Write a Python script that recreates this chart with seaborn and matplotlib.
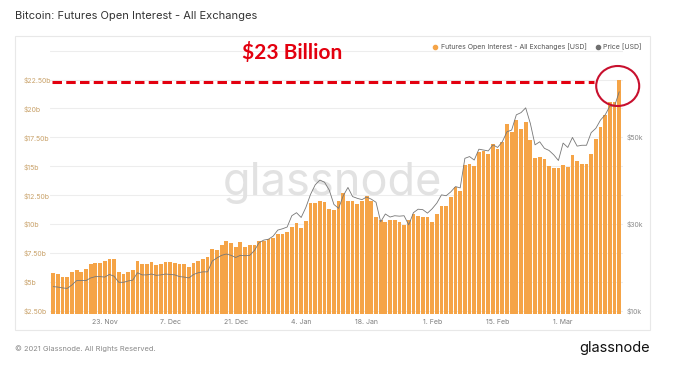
import numpy as np
import pandas as pd
import matplotlib.pyplot as plt
from matplotlib.patches import Rectangle, Ellipse
from matplotlib.lines import Line2D
import seaborn as sns

# daily values (12 Nov 2020 - 13 Mar 2021)
days = pd.date_range('2020-11-12', periods=122, freq='D')

open_interest = [
    5.75, 5.66, 5.46, 5.46, 5.89, 6.03, 5.89, 6.15, 6.52, 6.61,
    6.61, 6.84, 7.01, 6.95, 5.83, 5.66, 5.83, 6.03, 6.78, 6.52,
    6.52, 6.70, 6.50, 6.58, 6.72, 6.72, 6.64, 6.52, 6.52, 6.32,
    6.61, 6.81, 7.01, 7.16, 7.82, 7.76, 8.16, 8.53, 8.39, 8.04,
    8.42, 7.99, 8.16, 8.16, 8.53, 8.59, 8.73, 8.82, 9.14, 9.19,
    9.31, 9.77, 10.11, 9.68, 10.28, 11.84, 11.84, 12.04, 11.92, 11.35,
    11.21, 11.98, 12.70, 11.98, 11.98, 11.78, 11.98, 12.41, 11.98, 10.58,
    10.34, 10.20, 10.34, 10.40, 10.20, 9.91, 10.34, 10.92, 10.69, 10.63,
    10.58, 10.15, 10.92, 11.55, 11.61, 12.35, 13.22, 12.87, 15.09, 15.23,
    15.06, 16.23, 16.29, 16.09, 16.96, 16.53, 17.10, 18.62, 17.96, 18.97,
    18.25, 18.82, 17.24, 15.75, 15.80, 15.60, 15.00, 14.85, 14.85, 15.14,
    14.94, 15.95, 15.46, 15.17, 15.17, 16.03, 17.38, 18.39, 19.40, 20.54,
    20.60, 22.47,
]

price = [
    15.6, 15.5, 15.3, 15.2, 16.0, 17.0, 17.0, 17.0, 17.6, 17.9,
    17.9, 17.8, 18.4, 18.0, 16.6, 16.6, 16.9, 17.1, 18.8, 18.3,
    18.3, 18.5, 18.2, 18.3, 18.5, 18.4, 18.3, 17.9, 17.8, 17.6,
    18.4, 18.8, 19.0, 19.0, 21.5, 22.2, 22.8, 23.1, 22.8, 22.3,
    22.8, 22.7, 22.8, 23.9, 25.7, 26.3, 26.5, 27.2, 28.6, 28.9,
    29.3, 31.9, 32.6, 31.5, 33.8, 36.8, 39.0, 40.1, 39.6, 37.8,
    34.5, 33.6, 36.5, 38.4, 36.3, 35.9, 35.6, 36.2, 35.7, 35.0,
    30.5, 32.3, 31.6, 31.9, 31.8, 31.9, 29.8, 32.6, 33.4, 33.3,
    32.5, 33.5, 34.8, 36.7, 36.5, 37.4, 38.6, 38.3, 45.1, 45.5,
    44.7, 47.2, 47.0, 46.8, 48.2, 47.6, 48.9, 51.2, 51.6, 55.1,
    55.6, 56.7, 53.1, 48.2, 48.9, 47.4, 46.9, 45.9, 44.6, 48.6,
    47.6, 49.9, 47.9, 48.1, 48.1, 51.0, 52.0, 53.9, 55.1, 57.1,
    57.1, 60.4,
]

tick_dates = ['2020-11-23', '2020-12-07', '2020-12-21', '2021-01-04',
              '2021-01-18', '2021-02-01', '2021-02-15', '2021-03-01']
tick_labels = ['23. Nov', '7. Dec', '21. Dec', '4. Jan',
               '18. Jan', '1. Feb', '15. Feb', '1. Mar']

oi_ticks = [2.5, 5, 7.5, 10, 12.5, 15, 17.5, 20, 22.5]
oi_labels = ['$2.50b', '$5b', '$7.50b', '$10b', '$12.50b', '$15b',
             '$17.50b', '$20b', '$22.50b']
price_ticks = [10, 30, 50]
price_labels = ['$10k', '$30k', '$50k']

marked_level = 22.25

sns.set_style('white')
plt.rcParams['font.family'] = ['Inter', 'DejaVu Sans']

bar_color = '#f5a447'
line_color = '#777777'

df = pd.DataFrame({'day': days.strftime('%Y-%m-%d'), 'oi': open_interest})
day_list = list(df['day'])

fig = plt.figure(figsize=(6.8, 3.73), dpi=100)

# light panel frame
fig.add_artist(Rectangle((15 / 680, 43 / 373), 635 / 680, 294 / 373,
                         transform=fig.transFigure, fill=False,
                         ec='#e8e8e8', lw=0.8))

ax = fig.add_axes([50 / 680, 59 / 373, 572.5 / 680, 264 / 373])
sns.barplot(data=df, x='day', y='oi', color=bar_color, saturation=1,
            width=0.8, ax=ax, zorder=2, linewidth=0)

ax.set_xlim(-0.7, 121.7)
ax.set_ylim(2.24, 25.05)
ax.set_yticks(oi_ticks)
ax.set_yticklabels(oi_labels)
ax.set_xticks([day_list.index(d) for d in tick_dates])
ax.set_xticklabels(tick_labels)
ax.set_xlabel('')
ax.set_ylabel('')
ax.set_axisbelow(True)
ax.yaxis.grid(True, color='#ededed', lw=0.8)
ax.axhline(25, color='#ededed', lw=0.8, zorder=0)
ax.tick_params(axis='y', length=0, pad=18.7, labelsize=5, labelcolor='#c9a26a')
ax.tick_params(axis='x', length=0, pad=3.5, labelsize=5, labelcolor='#7d7d7d')
for lab in ax.get_yticklabels():
    lab.set_horizontalalignment('left')
for s in ax.spines.values():
    s.set_visible(False)

# watermark sits behind the bars
ax.text(0.4934, 0.4508, 'glassnode', transform=ax.transAxes, ha='center',
        va='baseline', fontsize=32.5, color='#e2e2e2', zorder=1)

# red dashed level
ax.plot([-0.3, 115.5], [marked_level, marked_level], color='#e3000f', lw=2.2,
        dashes=(3.1, 1.4), zorder=5)

ax2 = ax.twinx()
sns.lineplot(x=np.arange(len(price)), y=price, ax=ax2, color=line_color, lw=0.6)
ax2.set_ylim(9.31, 70)
ax2.set_yticks(price_ticks)
ax2.set_yticklabels(price_labels)
ax2.tick_params(axis='y', length=0, pad=3.2, labelsize=5, labelcolor='#8a8a8a')
ax2.set_ylabel('')
for s in ax2.spines.values():
    s.set_visible(False)

# title, legend, annotations
fig.text(15 / 680, 1 - 16 / 373, 'Bitcoin: Futures Open Interest - All Exchanges',
         fontsize=8, color='#333333', va='center')

fig.add_artist(Line2D([435 / 680], [1 - 46.7 / 373], marker='o', ms=3,
                      color=bar_color, transform=fig.transFigure))
fig.text(441 / 680, 1 - 46.7 / 373, 'Futures Open Interest - All Exchanges [USD]',
         fontsize=5, color='#555555', va='center')
fig.add_artist(Line2D([597.7 / 680], [1 - 46.7 / 373], marker='o', ms=3,
                      color='#707070', transform=fig.transFigure))
fig.text(603 / 680, 1 - 46.7 / 373, 'Price [USD]',
         fontsize=5, color='#555555', va='center')

fig.text(242 / 680, 1 - 52 / 373, '$23 Billion', fontsize=15,
         fontweight='bold', color='#e3000f', va='center',
         family=['Lato', 'DejaVu Sans'])

fig.add_artist(Ellipse((617.7 / 680, 1 - 86 / 373), 43 / 680, 40 / 373,
                       transform=fig.transFigure, fill=False,
                       ec='#c8102e', lw=1.5))

fig.text(15 / 680, 1 - 349 / 373, '© 2021 Glassnode. All Rights Reserved.',
         fontsize=5.4, color='#8a8a8a', va='center')
fig.text(650 / 680, 1 - 348 / 373, 'glassnode', fontsize=10.5,
         color='#111111', va='center', ha='right')

fig.savefig('out.png', dpi=100)
